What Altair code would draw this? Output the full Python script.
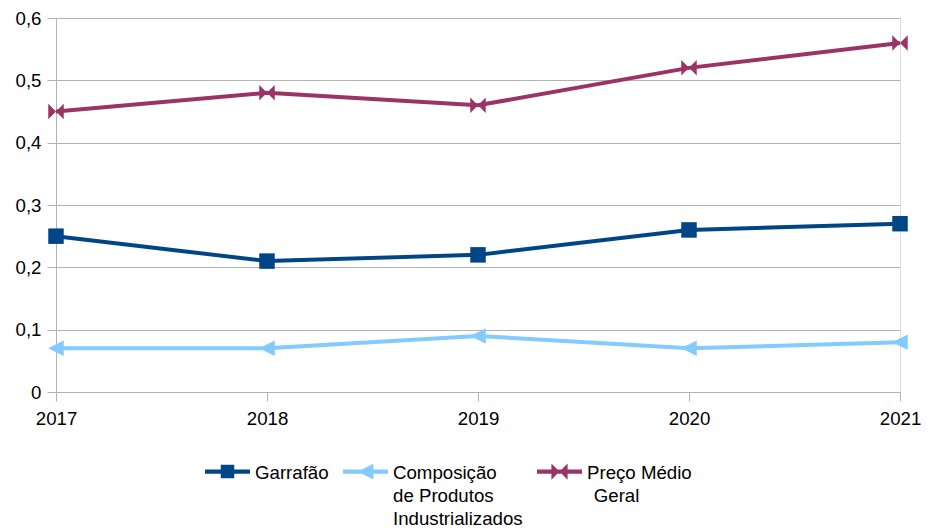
import altair as alt
import pandas as pd

years = [2017, 2018, 2019, 2020, 2021]
series_names = ["Garrafão", "Composição de Produtos Industrializados", "Preço Médio Geral"]
garrafao = [0.25, 0.21, 0.22, 0.26, 0.27]
composicao = [0.07, 0.07, 0.09, 0.07, 0.08]
preco = [0.45, 0.48, 0.46, 0.52, 0.56]
colors = ["#004586", "#83caff", "#9c3366"]
y_ticks = [0, 0.1, 0.2, 0.3, 0.4, 0.5, 0.6]

rows = []
for name, vals in zip(series_names, [garrafao, composicao, preco]):
    for yr, v in zip(years, vals):
        rows.append({"year": yr, "value": v, "series": name, "lg": name})
df = pd.DataFrame(rows)

FONT = "Liberation Sans"
FS = 18.67

marker_paths = [
    "M-1,-1H1V1H-1Z",
    "M-1,0L1,-1L1,1Z",
    "M-1,-1L0,0L-1,1ZM1,-1L1,1L0,0Z",
]
# legend symbols: line segment + marker, shifted down to align with first label line
D = 0.356
def sh(v):
    return f"{v + D:.3f}"
legend_paths = [
    f"M-1,{sh(-0.09)}H1V{sh(0.09)}H-1ZM-0.3,{sh(-0.3)}H0.3V{sh(0.3)}H-0.3Z",
    f"M-1,{sh(-0.09)}H1V{sh(0.09)}H-1ZM-0.35,{sh(0)}L0.35,{sh(-0.35)}L0.35,{sh(0.35)}Z",
    f"M-1,{sh(-0.09)}H1V{sh(0.09)}H-1ZM-0.36,{sh(-0.36)}L0,{sh(0)}L-0.36,{sh(0.36)}ZM0.36,{sh(-0.36)}L0.36,{sh(0.36)}L0,{sh(0)}Z",
]

x_enc = alt.X("year:Q",
              scale=alt.Scale(domain=[2017, 2021], nice=False, zero=False),
              axis=alt.Axis(values=years, format="d", title=None, grid=False,
                            domain=False, tickColor="#b3b3b3", tickSize=9,
                            labelPadding=8, labelFont=FONT, labelFontSize=FS,
                            labelColor="#000000", labelFlush=False))
y_enc = alt.Y("value:Q",
              scale=alt.Scale(domain=[0, 0.6], nice=False),
              axis=alt.Axis(values=y_ticks, title=None, grid=True, gridColor="#b3b3b3",
                            domain=True, domainColor="#b3b3b3", tickColor="#b3b3b3",
                            tickSize=9, labelPadding=6, labelFont=FONT, labelFontSize=FS,
                            labelColor="#000000", minExtent=48, maxExtent=48,
                            labelExpr="datum.value == 0 ? '0' : replace(format(datum.value, '.1f'), '.', ',')"))

color_scale = alt.Scale(domain=series_names, range=colors)

lines = alt.Chart(df).mark_line(strokeWidth=4).encode(
    x=x_enc, y=y_enc,
    color=alt.Color("series:N", scale=color_scale, legend=None),
    detail="series:N",
)

points = alt.Chart(df).mark_point(filled=True, opacity=1, size=240, strokeWidth=0).encode(
    x=x_enc, y=y_enc,
    color=alt.Color("series:N", scale=color_scale, legend=None),
    shape=alt.Shape("series:N", scale=alt.Scale(domain=series_names, range=marker_paths), legend=None),
)

legend = alt.Legend(
    title=None, orient="none", direction="horizontal", columns=3,
    legendX=149, legendY=423, padding=0,
    symbolSize=2025, symbolStrokeWidth=0, symbolOpacity=1,
    labelFont=FONT, labelFontSize=FS, labelColor="#000000",
    labelOffset=5, columnPadding=14, labelLimit=300, labelBaseline="top",
    labelExpr="datum.label == 'Composição de Produtos Industrializados' ? ['Composição', 'de Produtos', 'Industrializados'] : (datum.label == 'Preço Médio Geral' ? ['Preço Médio', '\u200b\u00a0\u200aGeral', ''] : [datum.label, '', ''])",
)

legend_layer = alt.Chart(df).transform_filter("false").mark_point(filled=True, opacity=1, strokeWidth=0).encode(
    x=x_enc, y=y_enc,
    color=alt.Color("lg:N", scale=alt.Scale(domain=series_names, range=colors), legend=legend),
    shape=alt.Shape("lg:N", scale=alt.Scale(domain=series_names, range=legend_paths), legend=legend),
)

chart = alt.layer(lines, points, legend_layer).resolve_scale(
    color="independent", shape="independent"
).properties(
    width=844, height=374,
    padding={"left": 0, "top": 1, "right": 0, "bottom": 0},
).configure_view(stroke="#b3b3b3", strokeWidth=1).configure(
    background="white", style={"guide-label": {"lineHeight": 23.3}}
)

chart.save("out.html", embed_options={"renderer": "svg", "actions": False})
